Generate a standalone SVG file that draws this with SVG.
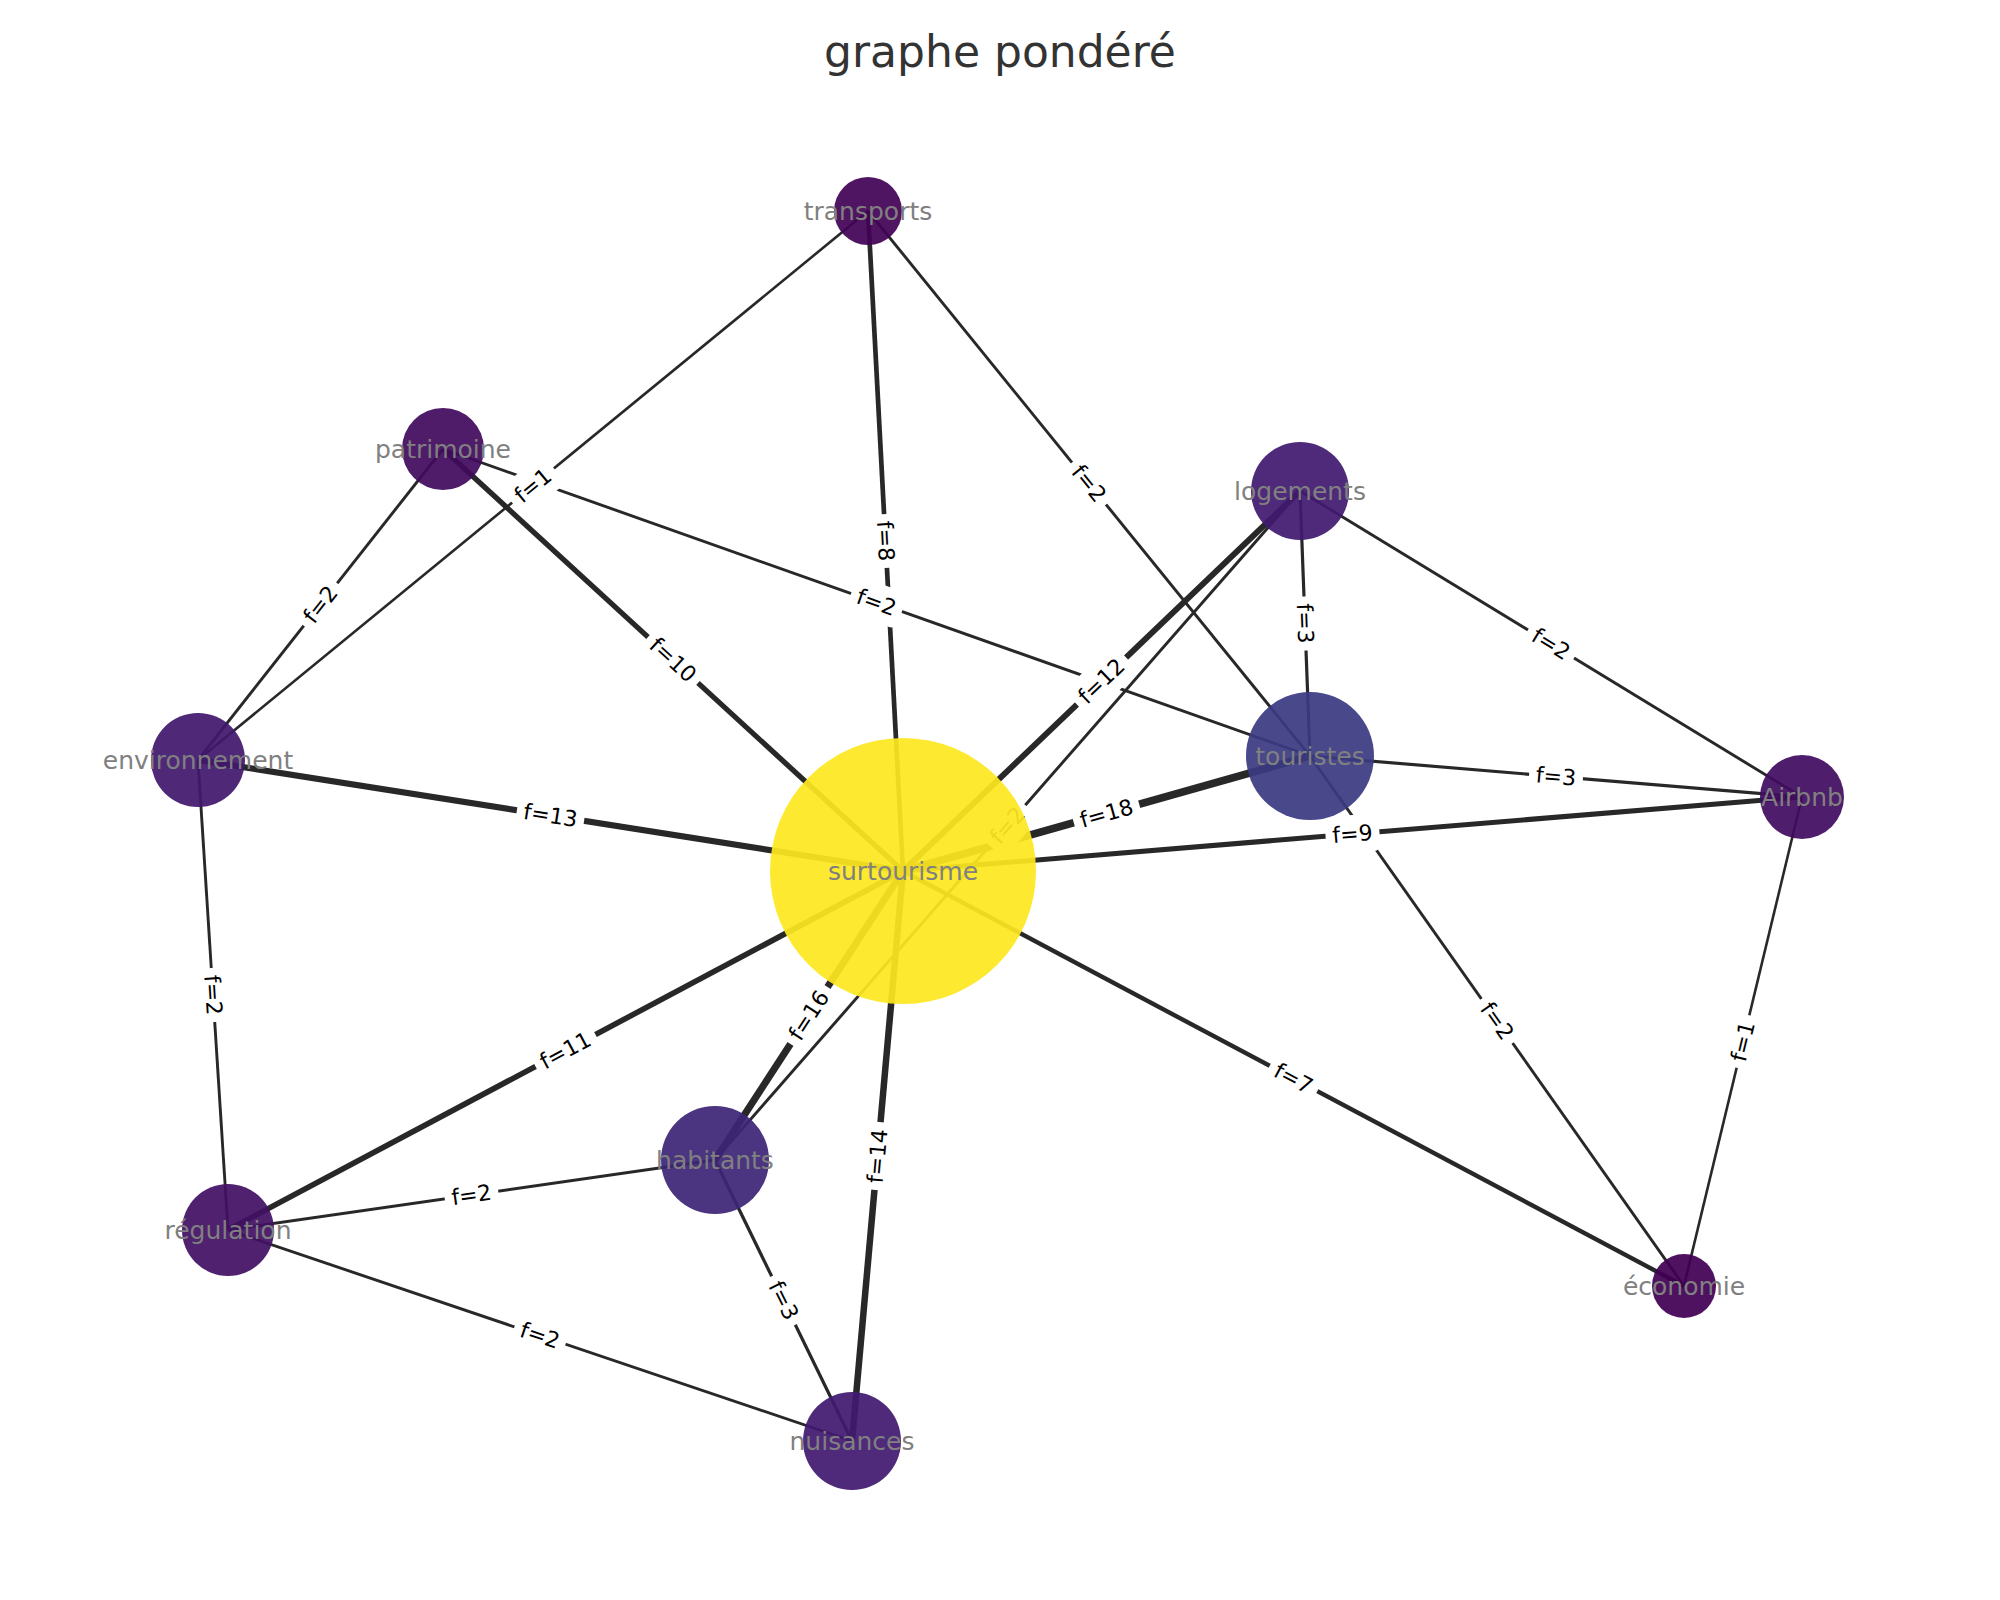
<svg xmlns="http://www.w3.org/2000/svg" width="2000" height="1600" viewBox="0 0 2000 1600">
<style>
.e{stroke:#282828;stroke-linecap:butt;fill:none}
.lb rect{fill:#ffffff}
.lb text{font-family:"DejaVu Sans",sans-serif;font-size:22px;fill:#000000;text-anchor:middle;dominant-baseline:central}
.n circle{opacity:0.93}
.n text{font-family:"DejaVu Sans",sans-serif;font-size:25px;fill:#808080;text-anchor:middle;dominant-baseline:central}
.title{font-family:"DejaVu Sans",sans-serif;font-size:44px;fill:#333333;text-anchor:middle}
</style>
<rect width="2000" height="1600" fill="#ffffff"/>
<text class="title" x="1000" y="67">graphe pondéré</text>
<g id="connectors">
<line class="e" x1="868" y1="211" x2="198" y2="760" stroke-width="2.6"/>
<line class="e" x1="443" y1="449" x2="198" y2="760" stroke-width="2.9"/>
<line class="e" x1="443" y1="449" x2="903" y2="871" stroke-width="5.3"/>
<line class="e" x1="868" y1="211" x2="903" y2="871" stroke-width="4.7"/>
<line class="e" x1="443" y1="449" x2="1310" y2="756" stroke-width="2.9"/>
<line class="e" x1="868" y1="211" x2="1310" y2="756" stroke-width="2.9"/>
<line class="e" x1="1300" y1="491" x2="903" y2="871" stroke-width="5.9"/>
<line class="e" x1="1300" y1="491" x2="1310" y2="756" stroke-width="3.2"/>
<line class="e" x1="1300" y1="491" x2="1802" y2="797" stroke-width="2.9"/>
<line class="e" x1="198" y1="760" x2="903" y2="871" stroke-width="6.2"/>
<line class="e" x1="1310" y1="756" x2="903" y2="871" stroke-width="7.7"/>
<line class="e" x1="1310" y1="756" x2="1802" y2="797" stroke-width="3.2"/>
<line class="e" x1="903" y1="871" x2="1802" y2="797" stroke-width="5.0"/>
<line class="e" x1="1300" y1="491" x2="715" y2="1160" stroke-width="2.9"/>
<line class="e" x1="198" y1="760" x2="228" y2="1230" stroke-width="2.9"/>
<line class="e" x1="228" y1="1230" x2="903" y2="871" stroke-width="5.6"/>
<line class="e" x1="715" y1="1160" x2="903" y2="871" stroke-width="7.1"/>
<line class="e" x1="852" y1="1441" x2="903" y2="871" stroke-width="6.5"/>
<line class="e" x1="1684" y1="1286" x2="903" y2="871" stroke-width="4.4"/>
<line class="e" x1="1310" y1="756" x2="1684" y2="1286" stroke-width="2.9"/>
<line class="e" x1="1802" y1="797" x2="1684" y2="1286" stroke-width="2.6"/>
<line class="e" x1="228" y1="1230" x2="715" y2="1160" stroke-width="2.9"/>
<line class="e" x1="715" y1="1160" x2="852" y2="1441" stroke-width="3.2"/>
<line class="e" x1="228" y1="1230" x2="852" y2="1441" stroke-width="2.9"/>
</g>
<g id="edge-labels" class="lb">
<g transform="translate(533,485.5) rotate(-39.3)"><rect x="-27" y="-19" width="54" height="38" rx="7"/><text>f=1</text></g>
<g transform="translate(320.5,604.5) rotate(-51.8)"><rect x="-27" y="-19" width="54" height="38" rx="7"/><text>f=2</text></g>
<g transform="translate(673,660) rotate(42.5)"><rect x="-34" y="-19" width="68" height="38" rx="7"/><text>f=10</text></g>
<g transform="translate(885.5,541) rotate(87)"><rect x="-27" y="-19" width="54" height="38" rx="7"/><text>f=8</text></g>
<g transform="translate(876.5,602.5) rotate(19.5)"><rect x="-27" y="-19" width="54" height="38" rx="7"/><text>f=2</text></g>
<g transform="translate(1089,483.5) rotate(51)"><rect x="-27" y="-19" width="54" height="38" rx="7"/><text>f=2</text></g>
<g transform="translate(1101.5,681) rotate(-43.7)"><rect x="-34" y="-19" width="68" height="38" rx="7"/><text>f=12</text></g>
<g transform="translate(1305,623.5) rotate(87.8)"><rect x="-27" y="-19" width="54" height="38" rx="7"/><text>f=3</text></g>
<g transform="translate(1551,644) rotate(31.4)"><rect x="-27" y="-19" width="54" height="38" rx="7"/><text>f=2</text></g>
<g transform="translate(550.5,815.5) rotate(8.9)"><rect x="-34" y="-19" width="68" height="38" rx="7"/><text>f=13</text></g>
<g transform="translate(1106.5,813.5) rotate(-15.8)"><rect x="-34" y="-19" width="68" height="38" rx="7"/><text>f=18</text></g>
<g transform="translate(1556,776.5) rotate(4.8)"><rect x="-27" y="-19" width="54" height="38" rx="7"/><text>f=3</text></g>
<g transform="translate(1352.5,834) rotate(-4.7)"><rect x="-27" y="-19" width="54" height="38" rx="7"/><text>f=9</text></g>
<g transform="translate(1007.5,825.5) rotate(-48.8)"><rect x="-27" y="-19" width="54" height="38" rx="7"/><text>f=2</text></g>
<g transform="translate(213,995) rotate(86.3)"><rect x="-27" y="-19" width="54" height="38" rx="7"/><text>f=2</text></g>
<g transform="translate(565.5,1050.5) rotate(-28)"><rect x="-34" y="-19" width="68" height="38" rx="7"/><text>f=11</text></g>
<g transform="translate(809,1015.5) rotate(-57)"><rect x="-34" y="-19" width="68" height="38" rx="7"/><text>f=16</text></g>
<g transform="translate(877.5,1156) rotate(-84.9)"><rect x="-34" y="-19" width="68" height="38" rx="7"/><text>f=14</text></g>
<g transform="translate(1293.5,1078.5) rotate(28)"><rect x="-27" y="-19" width="54" height="38" rx="7"/><text>f=7</text></g>
<g transform="translate(1497,1021) rotate(54.8)"><rect x="-27" y="-19" width="54" height="38" rx="7"/><text>f=2</text></g>
<g transform="translate(1743,1041.5) rotate(-76.4)"><rect x="-27" y="-19" width="54" height="38" rx="7"/><text>f=1</text></g>
<g transform="translate(471.5,1195) rotate(-8.2)"><rect x="-27" y="-19" width="54" height="38" rx="7"/><text>f=2</text></g>
<g transform="translate(783.5,1300.5) rotate(64)"><rect x="-27" y="-19" width="54" height="38" rx="7"/><text>f=3</text></g>
<g transform="translate(540,1335.5) rotate(18.7)"><rect x="-27" y="-19" width="54" height="38" rx="7"/><text>f=2</text></g>
</g>
<g id="node-surtourisme" class="n"><circle cx="903" cy="871" r="133" fill="#fde720"/><text x="903" y="871">surtourisme</text></g>
<g id="node-transports" class="n"><circle cx="868" cy="211" r="34" fill="#430356"/><text x="868" y="211">transports</text></g>
<g id="node-patrimoine" class="n"><circle cx="443" cy="449" r="41" fill="#410b5e"/><text x="443" y="449">patrimoine</text></g>
<g id="node-logements" class="n"><circle cx="1300" cy="491" r="49" fill="#421a70"/><text x="1300" y="491">logements</text></g>
<g id="node-environnement" class="n"><circle cx="198" cy="760" r="47" fill="#42186e"/><text x="198" y="760">environnement</text></g>
<g id="node-touristes" class="n"><circle cx="1310" cy="756" r="64" fill="#3a3a81"/><text x="1310" y="756">touristes</text></g>
<g id="node-Airbnb" class="n"><circle cx="1802" cy="797" r="42" fill="#410c60"/><text x="1802" y="797">Airbnb</text></g>
<g id="node-habitants" class="n"><circle cx="715" cy="1160" r="54" fill="#3d2676"/><text x="715" y="1160">habitants</text></g>
<g id="node-regulation" class="n"><circle cx="228" cy="1230" r="46" fill="#421064"/><text x="228" y="1230">régulation</text></g>
<g id="node-economie" class="n"><circle cx="1684" cy="1286" r="32" fill="#420054"/><text x="1684" y="1286">économie</text></g>
<g id="node-nuisances" class="n"><circle cx="852" cy="1441" r="49" fill="#421a70"/><text x="852" y="1441">nuisances</text></g>
</svg>
